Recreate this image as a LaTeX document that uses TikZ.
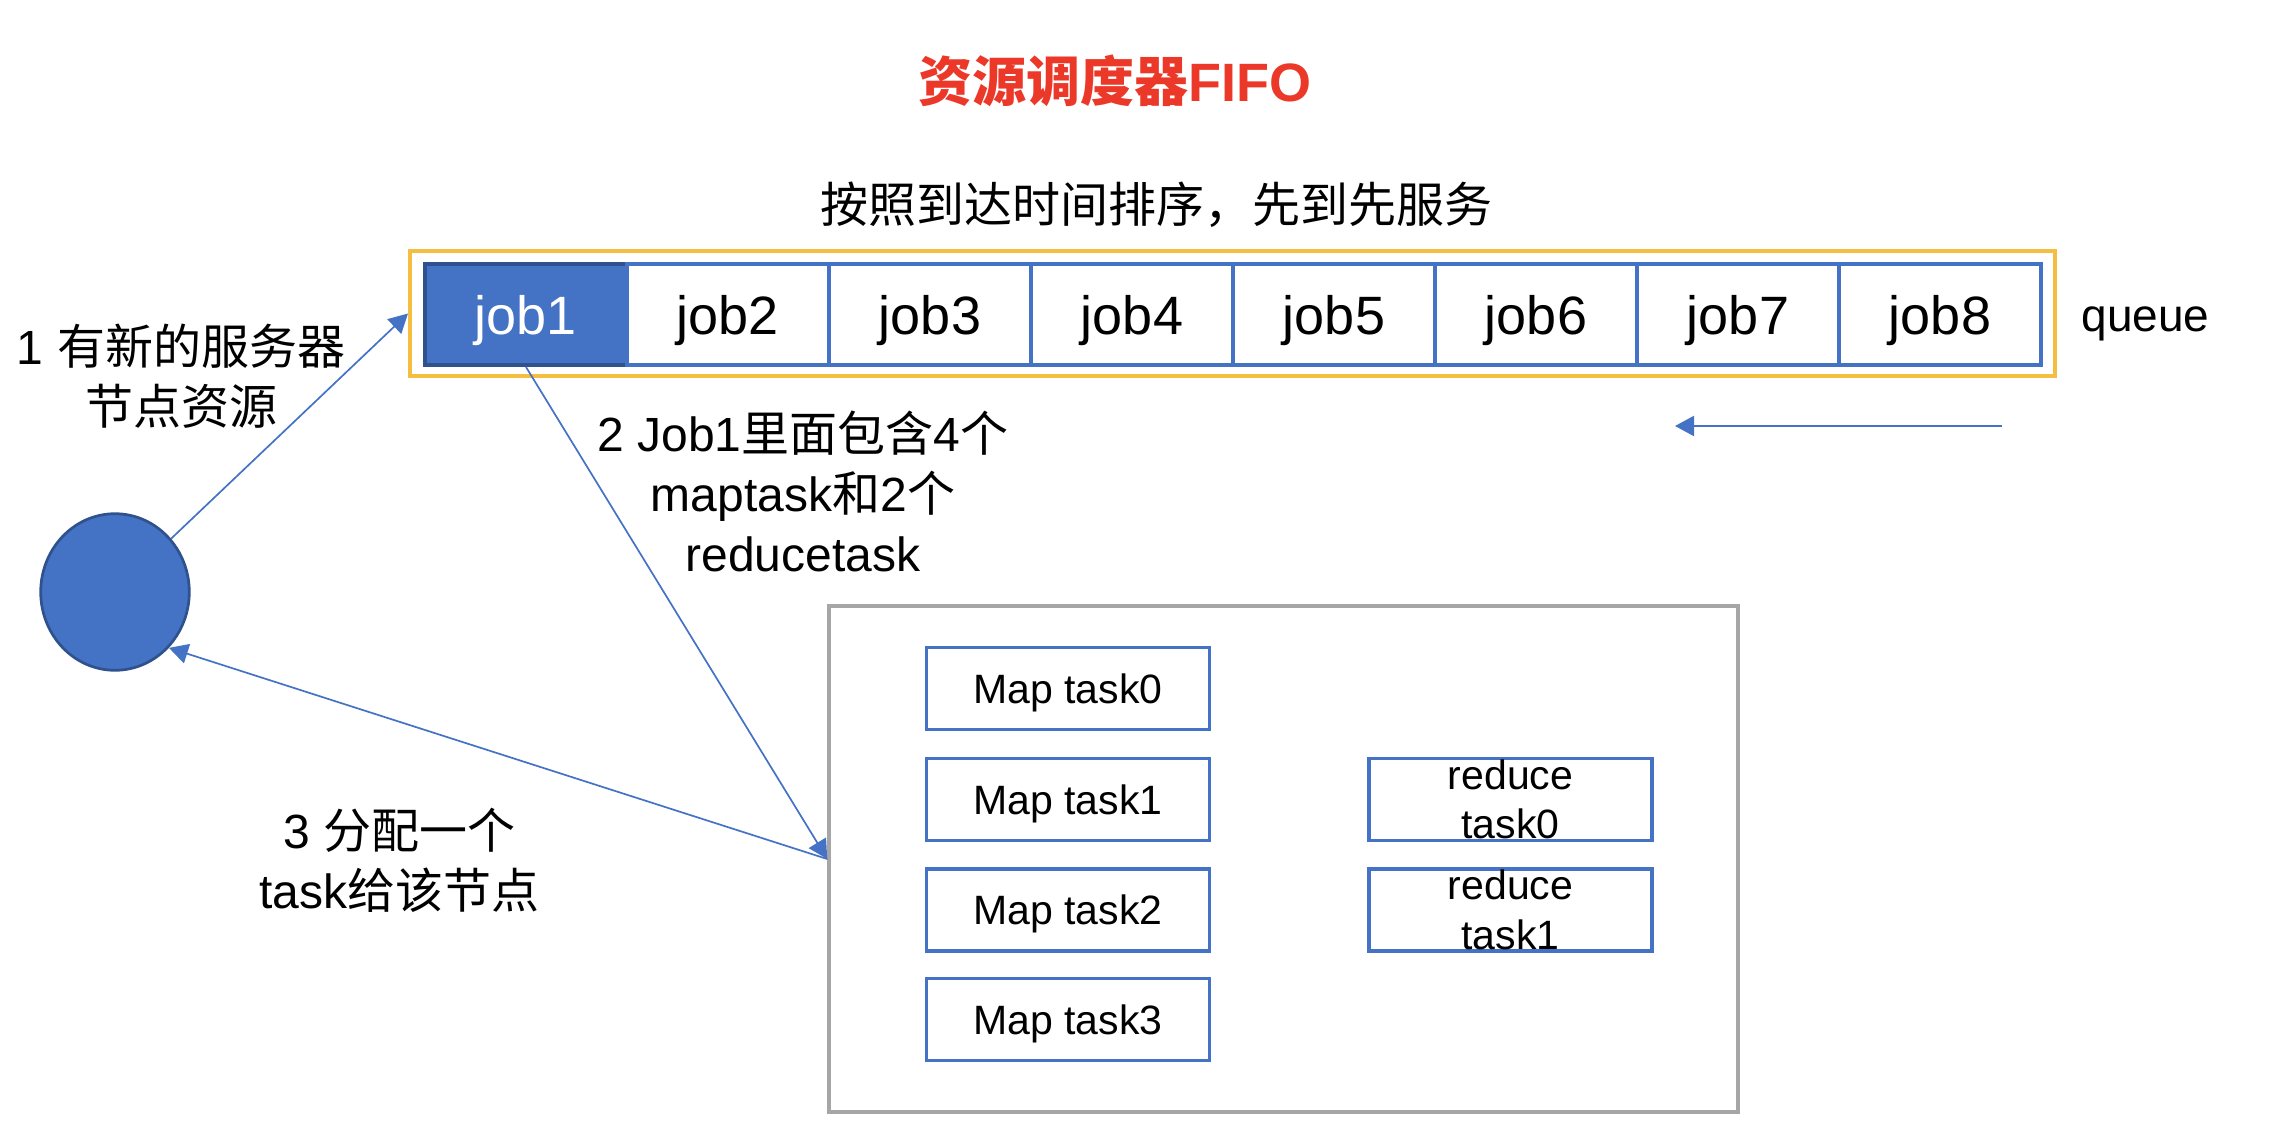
\documentclass[tikz,border=0pt]{standalone}
\usepackage{fontspec}
\setmainfont{Liberation Sans}
\newfontfamily\cjk{Noto Sans CJK SC}
\usetikzlibrary{arrows.meta,shapes.geometric}
\definecolor{accblue}{RGB}{68,114,196}
\definecolor{darkblue}{RGB}{47,82,143}
\definecolor{gold}{RGB}{245,190,65}
\definecolor{boxgray}{RGB}{166,166,166}
\definecolor{titlered}{RGB}{235,56,40}
\begin{document}
\begin{tikzpicture}[x=0.5pt,y=-0.5pt,
  jobbox/.style={draw=accblue,line width=2pt,fill=white,minimum width=101pt,minimum height=50.5pt,inner sep=0pt,text depth=0pt,font=\fontsize{27}{32}\selectfont},
  taskbox/.style={draw=accblue,line width=1.75pt,minimum width=141.5pt,minimum height=41pt,inner sep=0pt,align=center,font=\fontsize{20.5}{24.75}\selectfont},
  lbl/.style={align=center,font=\fontsize{24}{30}\selectfont,inner sep=0pt},
  conn/.style={draw=accblue,line width=0.85pt,-{Triangle[length=9.5pt,width=10pt]}}
]
\useasboundingbox (0,0) rectangle (2289,1139);

% title and subtitle
\node[font=\fontsize{27}{32}\selectfont\bfseries,text=titlered,inner sep=0pt] (title) at (1114.5,81) {{\cjk 资源调度器}FIFO};
\node[lbl] (sub) at (1156.5,205) {{\cjk 按照到达时间排序，先到先服务}};

% queue
\node[draw=gold,line width=2pt,minimum width=822.5pt,minimum height=62.5pt,inner sep=0pt] (queuebox) at (1232.5,313.5) {};
\node[jobbox,fill=accblue,draw=darkblue,text=white] (job1) at (526,314.5) {job1};
\foreach \i in {2,...,8}{
  \node[jobbox] (job\i) at ({425+202*(\i-0.5)},314.5) {job\i};
}
\node[anchor=base west,font=\fontsize{23}{28}\selectfont,inner sep=0pt] (queue) at (2081,331) {queue};
\coordinate (qa) at (2002,426);
\coordinate (qb) at (1675,426);
\draw[conn,line width=1.1pt] (qa) -- (qb);

% server node
\node[ellipse,fill=accblue,draw=darkblue,line width=1.35pt,minimum width=74.3pt,minimum height=78.3pt,inner sep=0pt] (server) at (115,592) {};

% task container
\node[draw=boxgray,line width=1.75pt,minimum width=454.5pt,minimum height=253pt,inner sep=0pt] (bigbox) at (1283.5,859) {};
\node[taskbox,text depth=0pt] (m0) at (1068,688.5) {Map task0};
\node[taskbox,text depth=0pt] (m1) at (1068,799.5) {Map task1};
\node[taskbox,text depth=0pt] (m2) at (1068,910) {Map task2};
\node[taskbox,text depth=0pt] (m3) at (1068,1019.5) {Map task3};
\node[taskbox] (r0) at (1510.5,799.5) {reduce\\task0};
\node[taskbox] (r1) at (1510.5,910) {reduce\\task1};

% labels
\node[lbl] (l1) at (181,376) {1 {\cjk 有新的服务器}\\{\cjk 节点资源}};
\node[lbl] (l2) at (803,491.5) {2 Job1{\cjk 里面包含}4{\cjk 个}\\maptask{\cjk 和}2{\cjk 个}\\reducetask};
\node[lbl] (l3) at (399.5,860.5) {3 {\cjk 分配一个}\\task{\cjk 给该节点}};

% connectors
\draw[conn] (server) -- (queuebox.west);
\draw[conn] (job1.south) -- (bigbox.west);
\draw[conn] (bigbox.west) -- (server.-46.6);
\end{tikzpicture}
\end{document}
